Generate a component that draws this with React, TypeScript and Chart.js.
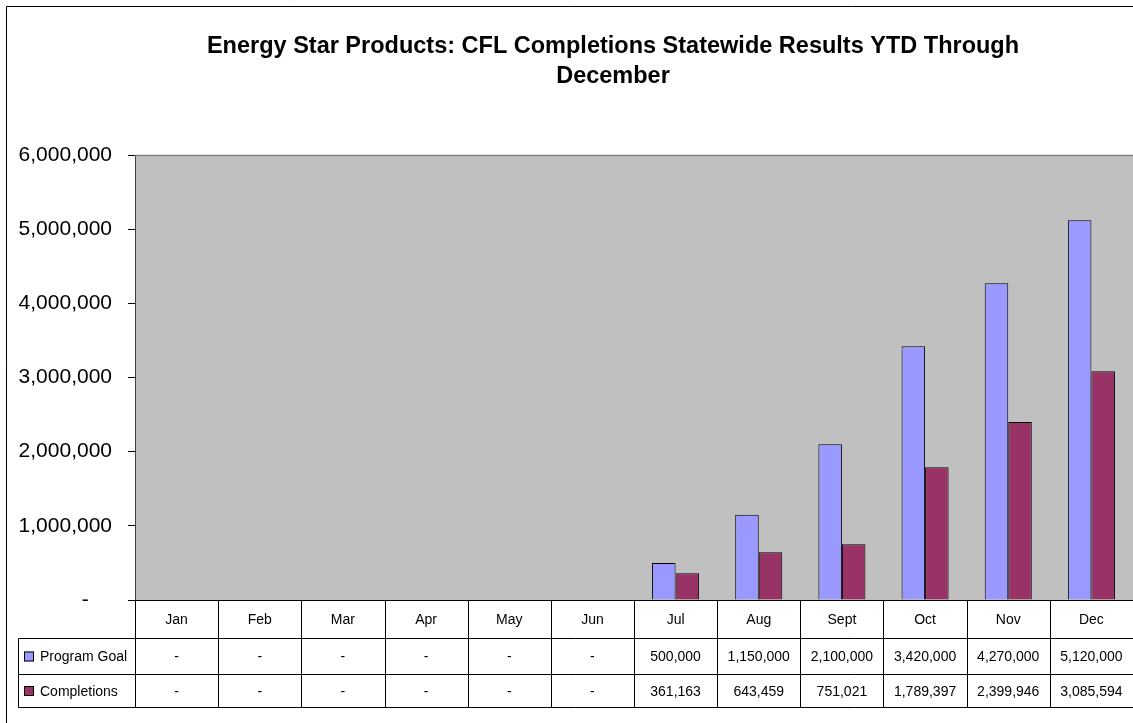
import React, { useEffect, useRef } from "react";
import { Chart, registerables } from "chart.js";

Chart.register(...registerables);

const months = ["Jan", "Feb", "Mar", "Apr", "May", "Jun", "Jul", "Aug", "Sept", "Oct", "Nov", "Dec"];
const programGoal: (number | null)[] = [null, null, null, null, null, null, 500000, 1150000, 2100000, 3420000, 4270000, 5120000];
const completions: (number | null)[] = [null, null, null, null, null, null, 361163, 643459, 751021, 1789397, 2399946, 3085594];
const seriesNames = ["Program Goal", "Completions"];
const seriesColors = ["#9999FF", "#993366"];
const titleLines = ["Energy Star Products: CFL Completions Statewide Results YTD Through", "December"];

const FONT = "'Liberation Sans', Arial, sans-serif";

const fmt = (v: number | null) => (v == null || v === 0 ? "-" : v.toLocaleString("en-US"));

const tablePlugin = {
  id: "excelTable",
  beforeDraw(chart: any) {
    const { ctx, chartArea: a } = chart;
    ctx.save();
    ctx.fillStyle = "#FFFFFF";
    ctx.fillRect(0, 0, chart.width, chart.height);
    ctx.fillStyle = "#C0C0C0";
    ctx.fillRect(a.left, a.top, a.right - a.left, a.bottom - a.top);
    ctx.restore();
  },
  afterDraw(chart: any) {
    const { ctx, chartArea: a } = chart;
    const xs = chart.scales.x;
    const step = xs.getPixelForValue(1) - xs.getPixelForValue(0);
    const bounds: number[] = [];
    for (let i = 0; i <= months.length; i++) bounds.push(Math.round(xs.getPixelForValue(i) - step / 2) + 0.5);
    const top = Math.round(a.bottom) + 0.5;
    const rows = [top, top + 38, top + 74, top + 107];
    const legLeft = 18.5;
    ctx.save();
    // plot area top border
    ctx.strokeStyle = "#808080";
    ctx.lineWidth = 1.5;
    ctx.beginPath();
    ctx.moveTo(a.left, a.top + 0.5);
    ctx.lineTo(a.right, a.top + 0.5);
    ctx.stroke();

    ctx.strokeStyle = "#000000";
    ctx.lineWidth = 1;
    ctx.beginPath();
    ctx.moveTo(bounds[0], rows[0]);
    ctx.lineTo(a.right, rows[0]);
    for (let r = 1; r < rows.length; r++) {
      ctx.moveTo(legLeft, rows[r]);
      ctx.lineTo(a.right, rows[r]);
    }
    ctx.moveTo(legLeft, rows[1]);
    ctx.lineTo(legLeft, rows[3]);
    for (let i = 0; i < bounds.length; i++) {
      ctx.moveTo(bounds[i], rows[0]);
      ctx.lineTo(bounds[i], rows[3]);
    }
    ctx.stroke();

    ctx.fillStyle = "#000000";
    ctx.font = `14px ${FONT}`;
    ctx.textAlign = "center";
    ctx.textBaseline = "middle";
    months.forEach((m, i) => {
      const cx = xs.getPixelForValue(i);
      ctx.fillText(m, cx, (rows[0] + rows[1]) / 2 + 1);
    });
    const data = [programGoal, completions];
    data.forEach((arr, r) => {
      const cy = (rows[r + 1] + rows[r + 2]) / 2 + 1;
      arr.forEach((v, i) => {
        ctx.fillText(fmt(v), xs.getPixelForValue(i), cy);
      });
      ctx.fillStyle = seriesColors[r];
      ctx.fillRect(24, cy - 6, 10, 10);
      ctx.strokeStyle = "#000";
      ctx.strokeRect(24.5, cy - 5.5, 9, 9);
      ctx.fillStyle = "#000";
      ctx.textAlign = "left";
      ctx.fillText(seriesNames[r], 40, cy);
      ctx.textAlign = "center";
    });

    // title
    ctx.font = `bold 23.5px ${FONT}`;
    ctx.textBaseline = "alphabetic";
    ctx.fillText(titleLines[0], 613, 53);
    ctx.fillText(titleLines[1], 613, 83);

    // outer chart border
    ctx.beginPath();
    ctx.moveTo(6.5, chart.height);
    ctx.lineTo(6.5, 6.5);
    ctx.lineTo(chart.width, 6.5);
    ctx.stroke();
    ctx.restore();
  },
};

export default function App() {
  const ref = useRef<HTMLCanvasElement | null>(null);
  useEffect(() => {
    if (!ref.current) return;
    const chart = new Chart(ref.current, {
      type: "bar",
      data: {
        labels: months,
        datasets: [
          {
            label: seriesNames[0],
            data: programGoal,
            backgroundColor: seriesColors[0],
            borderColor: "#000000",
            borderWidth: 1,
            categoryPercentage: 0.566,
            barPercentage: 1,
          },
          {
            label: seriesNames[1],
            data: completions,
            backgroundColor: seriesColors[1],
            borderColor: "#000000",
            borderWidth: 1,
            categoryPercentage: 0.566,
            barPercentage: 1,
          },
        ],
      },
      options: {
        responsive: false,
        maintainAspectRatio: false,
        animation: false,
        layout: { padding: { left: 0, top: 155, right: 0, bottom: 123 } },
        plugins: {
          legend: { display: false },
          title: { display: false },
          tooltip: { enabled: false },
        },
        scales: {
          x: { display: false },
          y: {
            min: 0,
            max: 6000000,
            afterFit: (s: any) => {
              s.width = 135;
            },
            border: { display: true, color: "#404040", width: 1 },
            grid: { drawOnChartArea: false, drawTicks: true, tickLength: 7, color: "#000000" },
            ticks: {
              stepSize: 1000000,
              padding: 16,
              color: "#000000",
              font: { family: FONT, size: 21 },
              callback: (v: any) => (Number(v) === 0 ? "-    " : Number(v).toLocaleString("en-US")),
            },
          },
        },
      },
      plugins: [tablePlugin],
    });
    return () => chart.destroy();
  }, []);
  return (
    <div style={{ position: "absolute", left: 0, top: 0, width: 1133, height: 723, overflow: "hidden", background: "#fff" }}>
      <canvas ref={ref} width={1133} height={723} style={{ display: "block" }} />
    </div>
  );
}
